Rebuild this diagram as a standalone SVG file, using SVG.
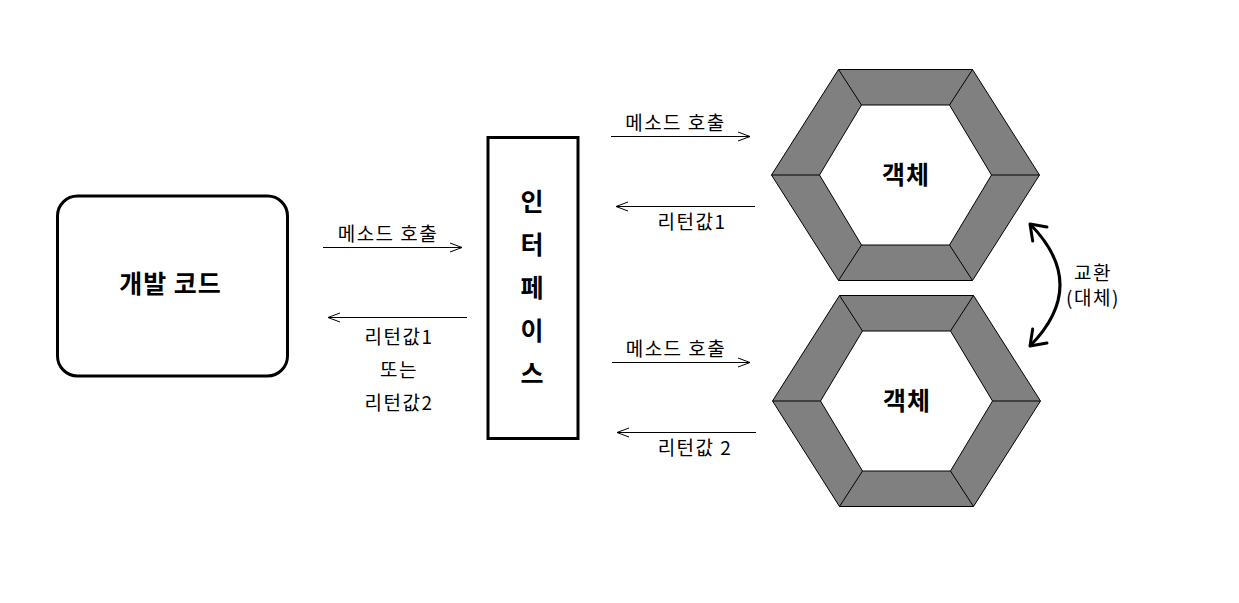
<svg xmlns="http://www.w3.org/2000/svg" xmlns:xlink="http://www.w3.org/1999/xlink" width="1239" height="603" viewBox="0 0 1239 603">
<style>
.lbl{font-family:"Noto Sans CJK KR","Liberation Sans",sans-serif;font-size:19px;letter-spacing:1.5px;fill:#000;text-anchor:middle}
.big{font-family:"Noto Sans CJK KR","Liberation Sans",sans-serif;font-size:25px;letter-spacing:1px;font-weight:bold;fill:#000;text-anchor:middle}
.conn{stroke:#000;stroke-width:1;fill:none}
.box{fill:#fff;stroke:#000;stroke-width:3}
</style>
<defs>
<marker id="open" markerUnits="userSpaceOnUse" markerWidth="16" markerHeight="14" refX="13" refY="7" orient="auto-start-reverse" viewBox="0 0 16 14">
<path d="M1,2.5 L13,7 L1,11.5" fill="none" stroke="#000" stroke-width="1"/>
</marker>
<marker id="bold" markerUnits="userSpaceOnUse" markerWidth="24" markerHeight="26" refX="19" refY="13" orient="auto-start-reverse" viewBox="0 0 24 26">
<path d="M5,3 L19,13 L5,23" fill="none" stroke="#000" stroke-width="3" stroke-linecap="round" stroke-linejoin="round"/>
</marker>
<g id="hex">
<path d="M-67,-105.5 L67,-105.5 L134,0 L67,105.5 L-67,105.5 L-134,0 Z M-44,-70 L44,-70 L86,0 L44,70 L-44,70 L-86,0 Z" fill="#808080" fill-rule="evenodd" stroke="#000" stroke-width="1"/>
<path d="M-67,-105.5 L-44,-70 M67,-105.5 L44,-70 M134,0 L86,0 M67,105.5 L44,70 M-67,105.5 L-44,70 M-134,0 L-86,0" stroke="#000" stroke-width="1" fill="none"/>
</g>
</defs>
<rect width="1239" height="603" fill="#fff"/>

<g id="dev-code">
<rect class="box" x="57.5" y="196" width="230" height="180" rx="20" ry="20"/>
<text class="big" x="170.5" y="293">개발 코드</text>
</g>

<g id="interface">
<rect class="box" x="488" y="137.5" width="90" height="301"/>
<text class="big" x="532.5" y="211">인</text>
<text class="big" x="532.5" y="254">터</text>
<text class="big" x="532.5" y="297">페</text>
<text class="big" x="532.5" y="340">이</text>
<text class="big" x="532.5" y="383">스</text>
</g>

<g id="object1" transform="translate(905.5,175)">
<use xlink:href="#hex" href="#hex"/>
<text class="big" x="0.5" y="9">객체</text>
</g>

<g id="object2" transform="translate(906.5,401)">
<use xlink:href="#hex" href="#hex"/>
<text class="big" x="0.5" y="9">객체</text>
</g>

<g id="connectors">
<line class="conn" x1="323" y1="247.5" x2="462" y2="247.5" marker-end="url(#open)"/>
<line class="conn" x1="467" y1="317.5" x2="328" y2="317.5" marker-end="url(#open)"/>
<line class="conn" x1="611" y1="136.5" x2="750" y2="136.5" marker-end="url(#open)"/>
<line class="conn" x1="755" y1="206.5" x2="616" y2="206.5" marker-end="url(#open)"/>
<line class="conn" x1="612" y1="362.5" x2="750" y2="362.5" marker-end="url(#open)"/>
<line class="conn" x1="756" y1="432.5" x2="617" y2="432.5" marker-end="url(#open)"/>
<path d="M1030,224 Q1090,285 1030,346" fill="none" stroke="#000" stroke-width="3" marker-start="url(#bold)" marker-end="url(#bold)"/>
</g>

<g id="labels">
<text class="lbl" x="388" y="241">메소드 호출</text>
<text class="lbl" x="399" y="344">리턴값1</text>
<text class="lbl" x="399" y="377">또는</text>
<text class="lbl" x="399" y="410">리턴값2</text>
<text class="lbl" x="675.5" y="130">메소드 호출</text>
<text class="lbl" x="692" y="229">리턴값1</text>
<text class="lbl" x="676" y="356">메소드 호출</text>
<text class="lbl" x="695" y="455">리턴값 2</text>
<text class="lbl" x="1093" y="280">교환</text>
<text class="lbl" x="1093" y="305">(대체)</text>
</g>
</svg>
